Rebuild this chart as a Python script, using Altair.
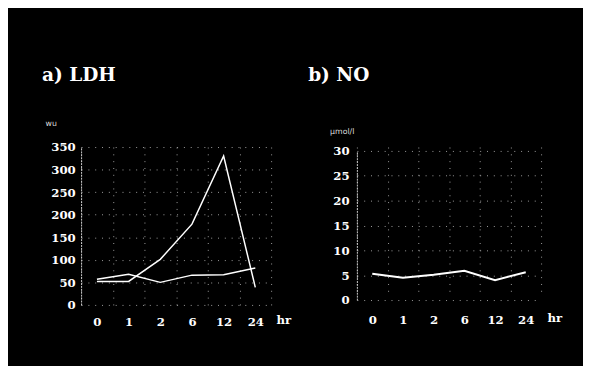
import altair as alt
import pandas as pd

hours = ["0", "1", "2", "6", "12", "24"]
ldh_rise = [52, 52, 101, 179, 330, 39]
ldh_flat = [57, 68, 50, 66, 67, 82]
no_vals = [5.3, 4.5, 5.1, 5.9, 4.0, 5.6]

df_a = pd.DataFrame({
    "hr": hours * 2,
    "value": ldh_rise + ldh_flat,
    "series": ["rise"] * 6 + ["flat"] * 6,
})
df_b = pd.DataFrame({"hr": hours, "value": no_vals})

SERIF = "DejaVu Serif"
GRID = "#a0a0a0"


def x_axis(label_pad, title_x, title_y):
    return alt.Axis(
        labelAngle=0, labelFont=SERIF, labelFontWeight="bold", labelFontSize=12,
        labelColor="white", labelPadding=label_pad, domain=False, ticks=False,
        grid=True, gridColor=GRID, gridDash=[1, 6], gridWidth=1, tickBand="extent",
        title="hr", titleFont=SERIF, titleFontWeight="bold", titleFontSize=12,
        titleColor="white", titleAngle=0, titleAlign="left", titleBaseline="middle",
        titleX=title_x, titleY=title_y,
    )


def y_axis(values, unit, label_pad, title_x, title_y):
    return alt.Axis(
        values=values, labelFont=SERIF, labelFontWeight="bold", labelFontSize=12,
        labelColor="white", labelPadding=label_pad, domain=True, domainColor="#d0d0d0",
        domainDash=[2, 1], ticks=False, grid=True, gridColor=GRID, gridDash=[1, 6],
        title=unit, titleFont="DejaVu Sans", titleFontWeight="normal", titleFontSize=8,
        titleColor="#dddddd", titleAngle=0, titleAlign="left", titleBaseline="middle",
        titleX=title_x, titleY=title_y,
    )


panel_a = alt.Chart(df_a).mark_line(color="white", strokeWidth=1.5).encode(
    x=alt.X("hr:N", sort=hours, scale=alt.Scale(paddingInner=0, paddingOuter=0),
            axis=x_axis(12, 200, 15)),
    y=alt.Y("value:Q", scale=alt.Scale(domain=[0, 350], nice=False),
            axis=y_axis(list(range(0, 351, 50)), "wu", 6, -37, -24)),
    detail="series:N",
).properties(
    width=195, height=162,
    title=alt.TitleParams("a) LDH", anchor="start", frame="group", dx=-40, offset=36,
                          font=SERIF, fontWeight="bold", fontSize=19, color="white"),
)

panel_b = alt.Chart(df_b).mark_line(color="white", strokeWidth=2).encode(
    x=alt.X("hr:N", sort=hours, scale=alt.Scale(paddingInner=0, paddingOuter=0),
            axis=x_axis(15, 195, 18)),
    y=alt.Y("value:Q", scale=alt.Scale(domain=[0, 30], nice=False, range=[157, 4]),
            axis=y_axis(list(range(0, 31, 5)), "μmol/l", 8, -28, -16)),
).properties(
    width=189, height=157,
    title=alt.TitleParams("b) NO", anchor="start", frame="group", dx=-50, offset=44,
                          font=SERIF, fontWeight="bold", fontSize=19, color="white"),
)

chart = alt.hconcat(panel_a, panel_b, spacing=17).properties(
    padding={"left": 35, "top": 55, "right": 21, "bottom": 35},
).configure(background="black").configure_view(stroke=None)

chart.save("out.html", embed_options={"renderer": "svg", "actions": False})
